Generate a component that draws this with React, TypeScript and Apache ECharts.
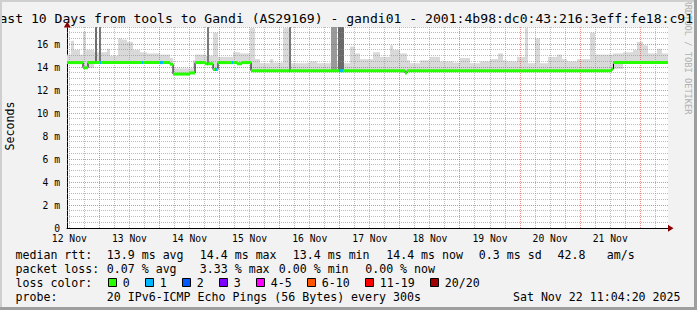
import React, { useEffect, useRef } from 'react';
import * as echarts from 'echarts';

const FONT = 'DejaVu Sans Mono';
// hours counted from 12 Nov 00:00
const START_H = 11.072;
const END_H = 251.072;
const Y_MAX = 17.5;

const titleText = 'Last 10 Days from tools to Gandi (AS29169) - gandi01 - 2001:4b98:dc0:43:216:3eff:fe18:c91';
const creditText = 'RRDTOOL / TOBI OETIKER';
const yAxisName = 'Seconds';

const dayLabels = ['12 Nov', '13 Nov', '14 Nov', '15 Nov', '16 Nov', '17 Nov', '18 Nov', '19 Nov', '20 Nov', '21 Nov'];
const dayLabelHours = [12, 36, 60, 84, 108, 132, 156, 180, 204, 228];
const yTickValues = [0, 2, 4, 6, 8, 10, 12, 14, 16];
const yTickLabels = ['0', '2 m', '4 m', '6 m', '8 m', '10 m', '12 m', '14 m', '16 m'];

// median rtt (ms), step starts in hours
const medianStart = [11.07, 17.46, 19.46, 52.21, 53.41, 60.2, 62.2, 66.19, 69.38, 71.38, 78.97, 80.97, 84.56, 146.07, 146.87, 228.6, 229.3];
const medianMs = [14.4, 13.95, 14.4, 14.25, 13.4, 13.5, 14.4, 14.3, 13.8, 14.4, 14.3, 14.4, 13.7, 13.5, 13.7, 13.85, 14.4];

// packet loss periods (lost pings of 20)
const lossStart = [24.2, 41.0, 48.2, 66.9, 70.2, 71.8, 77.0, 99.7, 119.5];
const lossEnd = [24.7, 41.4, 49.4, 67.4, 71.0, 72.2, 77.4, 100.1, 121.1];
const lossCount = [1, 1, 1, 1, 1, 1, 1, 1, 1];

// smoke: highest ping (ms), step starts in hours
const smokeStart = [11.07, 12.67, 13.87, 16.26, 17.46, 18.66, 21.85, 27.05, 28.24, 31.44, 33.04, 35.03, 37.43, 40.23, 43.02, 48.21, 52.21, 53.41, 61.4, 62.2, 66.59, 69.38, 71.38, 77.37, 80.17, 84.16, 86.16, 88.15, 92.15, 93.35, 97.34, 100.14, 106.93, 108.12, 110.92, 116.11, 121.71, 124.1, 126.1, 128.1, 133.29, 136.09, 140.08, 141.28, 144.08, 146.87, 148.07, 152.06, 156.05, 160.04, 165.24, 168.03, 172.03, 176.02, 180.02, 183.21, 185.21, 186.81, 190.8, 194.0, 195.2, 197.99, 199.99, 203.18, 206.78, 208.77, 210.77, 214.76, 219.96, 221.95, 229.14, 233.14, 237.13, 238.73, 241.13, 243.12, 246.72, 248.72];
const smokeMax = [15.1, 16.3, 15.5, 15.1, 17.1, 15.5, 15.3, 15.6, 15.0, 16.5, 16.4, 16.2, 15.5, 15.3, 15.2, 15.1, 14.8, 13.9, 14.6, 15.1, 15.0, 17.0, 14.9, 15.3, 15.2, 17.4, 14.7, 14.35, 14.7, 14.4, 17.4, 14.35, 14.4, 14.5, 14.35, 14.4, 14.35, 15.8, 15.2, 14.7, 15.3, 14.9, 15.9, 15.5, 15.2, 14.6, 14.35, 14.6, 14.9, 14.5, 14.4, 14.8, 14.35, 14.5, 14.7, 15.2, 14.6, 14.5, 14.9, 17.4, 14.35, 16.5, 14.35, 14.9, 15.1, 14.7, 14.5, 14.7, 17.0, 15.1, 15.2, 15.3, 15.5, 16.2, 15.9, 15.2, 15.6, 15.2];

// dense smoke spikes
const spikeStart = [22.25, 23.85, 66.99, 99.74, 116.51, 119.31];
const spikeEnd = [23.05, 24.65, 67.79, 100.54, 118.91, 121.71];
const spikeTop = [17.5, 17.5, 17.5, 17.5, 17.5, 17.5];
const spikeShade = ['#6e6e6e', '#7a7a7a', '#7a7a7a', '#777777', '#9a9a9a', '#6a6a6a'];

const lossColorLabels = ['0', '1', '2', '3', '4-5', '6-10', '11-19', '20/20'];
const lossColors = ['#26ff00', '#00b8ff', '#0059ff', '#7e00ff', '#ff00ff', '#ff5500', '#ff0000', '#a10000'];

const rttLabel = 'median rtt:';
const rttStats = ['13.9 ms avg', '14.4 ms max', '13.4 ms min', '14.4 ms now', '0.3 ms sd', '42.8', 'am/s'];
const lossLabel = 'packet loss:';
const lossStats = ['0.07 % avg', '3.33 % max', '0.00 % min', '0.00 % now'];
const lossColorLabel = 'loss color:';
const probeLabel = 'probe:';
const probeText = '20 IPv6-ICMP Echo Pings (56 Bytes) every 300s';
const stampText = 'Sat Nov 22 11:04:20 2025';

function lossColorIndex(n: number) {
  if (n <= 3) return n;
  if (n <= 5) return 4;
  if (n <= 10) return 5;
  if (n <= 19) return 6;
  return 7;
}

function medianMinBetween(h0: number, h1: number) {
  let m = Infinity;
  for (let i = 0; i < medianStart.length; i++) {
    const s = medianStart[i];
    const e = i + 1 < medianStart.length ? medianStart[i + 1] : END_H;
    if (s < h1 && e > h0) m = Math.min(m, medianMs[i]);
  }
  return m === Infinity ? medianMs[0] : m;
}

export default function App() {
  const ref = useRef<HTMLDivElement>(null);

  useEffect(() => {
    document.body.style.margin = '0';
    if (!ref.current) return;
    const chart = echarts.init(ref.current, undefined, { renderer: 'svg' });

    const medianSegs = medianStart.map((s, i) => [s, i + 1 < medianStart.length ? medianStart[i + 1] : END_H, medianMs[i]]);
    const medianLine: number[][] = medianStart.map((s, i) => [s, medianMs[i]]);
    medianLine.push([END_H, medianMs[medianMs.length - 1]]);

    const smokeData = smokeStart.map((s, i) => {
      const e = i + 1 < smokeStart.length ? smokeStart[i + 1] : END_H;
      return [s, e, smokeMax[i], medianMinBetween(s, e)];
    });
    const spikeData = spikeStart.map((s, i) => [s, spikeEnd[i], spikeTop[i], medianMinBetween(s, spikeEnd[i]), i]);

    const lossData = lossStart.map((s, i) => {
      const e = lossEnd[i];
      let v = medianMs[0];
      for (let k = 0; k < medianStart.length; k++) if (medianStart[k] <= s) v = medianMs[k];
      return [s, e, v, lossColorIndex(lossCount[i])];
    });

    // grid lines: [x, y, kind] kind 0 vminor 1 vmajor 2 hminor 3 hmajor
    const gridData: number[][] = [];
    for (let h = 12; h < END_H; h += 6) gridData.push([h, 0, h % 24 === 0 ? 1 : 0]);
    for (let v = 0.5; v <= Y_MAX + 0.001; v += 0.5) gridData.push([START_H, v, v % 2 === 0 ? 3 : 2]);

    const minorColor = 'rgba(143,143,143,0.6)';
    const majorColor = 'rgba(222,48,33,0.55)';

    const textEl = (text: string, x: number, y: number, extra: any = {}) => ({
      type: 'text',
      x,
      y,
      silent: true,
      style: {
        text,
        fill: '#000',
        font: `11.6px "${FONT}"`,
        textAlign: 'left',
        textVerticalAlign: 'middle',
        verticalAlign: 'middle',
        ...extra,
      },
    });

    const graphic: any[] = [];
    graphic.push({
      type: 'text', x: 687.5, y: 57, rotation: -Math.PI / 2, silent: true, z: 1,
      style: { text: creditText, fill: '#b0b0b0', font: `8.7px "${FONT}"`, textAlign: 'center', textVerticalAlign: 'middle', verticalAlign: 'middle' },
    });
    graphic.push({
      type: 'text', x: -8.5, y: 18.7, silent: true, z: 2,
      style: { text: titleText, fill: '#000', font: `13.1px "${FONT}"`, textAlign: 'left', textVerticalAlign: 'middle', verticalAlign: 'middle' },
    });
    graphic.push({
      type: 'text', x: 10, y: 126, rotation: Math.PI / 2, silent: true,
      style: { text: yAxisName, fill: '#000', font: `11.6px "${FONT}"`, textAlign: 'center', textVerticalAlign: 'middle', verticalAlign: 'middle' },
    });
    graphic.push({ type: 'polygon', silent: true, z: 10, shape: { points: [[668, 224.8], [673.5, 228.3], [668, 231.8]] }, style: { fill: '#8b0000' } });
    graphic.push({ type: 'polygon', silent: true, z: 10, shape: { points: [[63.8, 27.5], [67.3, 21.5], [70.8, 27.5]] }, style: { fill: '#8b0000' } });

    const rowY = [255.2, 268.8, 282.7, 296.5];
    const rttX = [106.8, 199.8, 292.8, 386.2, 478.8, 557.5, 606.8];
    const lossX = [106.8, 199.8, 278.8, 365.2];
    graphic.push(textEl(rttLabel, 15.5, rowY[0]));
    rttStats.forEach((t, i) => graphic.push(textEl(t, rttX[i], rowY[0])));
    graphic.push(textEl(lossLabel, 15.5, rowY[1]));
    lossStats.forEach((t, i) => graphic.push(textEl(t, lossX[i], rowY[1])));
    graphic.push(textEl(lossColorLabel, 15.5, rowY[2]));
    const swX = [108.5, 145.5, 182.5, 219.5, 256.5, 307.5, 365.5, 430.5];
    lossColorLabels.forEach((t, i) => {
      graphic.push({
        type: 'rect', silent: true,
        shape: { x: swX[i], y: 278.5, width: 8, height: 8 },
        style: { fill: lossColors[i], stroke: '#000', lineWidth: 1 },
      });
      graphic.push(textEl(t, swX[i] + 14.3, rowY[2]));
    });
    graphic.push(textEl(probeLabel, 15.5, rowY[3]));
    graphic.push(textEl(probeText, 106.8, rowY[3]));
    graphic.push(textEl(stampText, 680.5, rowY[3], { textAlign: 'right' }));

    graphic.push({ type: 'rect', silent: true, z: 20, shape: { x: 0, y: 0, width: 697, height: 2 }, style: { fill: '#cfcfcf' } });
    graphic.push({ type: 'rect', silent: true, z: 20, shape: { x: 0, y: 0, width: 2, height: 310 }, style: { fill: '#cfcfcf' } });
    graphic.push({ type: 'rect', silent: true, z: 21, shape: { x: 0, y: 307, width: 697, height: 3 }, style: { fill: '#9e9e9e' } });
    graphic.push({ type: 'rect', silent: true, z: 21, shape: { x: 694, y: 0, width: 3, height: 310 }, style: { fill: '#9e9e9e' } });

    const rectFromCoords = (api: any, x0: number, x1: number, yTop: number, yBot: number, fill: string) => {
      const p0 = api.coord([x0, yTop]);
      const p1 = api.coord([x1, yBot]);
      const xa = Math.round(p0[0]);
      const xb = Math.round(p1[0]);
      return {
        type: 'rect',
        shape: { x: xa, y: p0[1], width: Math.max(1, xb - xa), height: p1[1] - p0[1] },
        style: { fill },
      };
    };

    const option: any = {
      animation: false,
      backgroundColor: '#f2f2f2',
      textStyle: { fontFamily: FONT },
      grid: { left: 67, right: 29, top: 27, bottom: 82, show: true, backgroundColor: '#ffffff', borderWidth: 0 },
      xAxis: {
        type: 'value',
        min: START_H,
        max: END_H,
        splitLine: { show: false },
        axisTick: { show: false },
        axisLine: { show: true, lineStyle: { color: '#000', width: 1 } },
        axisLabel: {
          customValues: dayLabelHours,
          formatter: (v: number) => {
            const i = dayLabelHours.indexOf(Math.round(v));
            return i >= 0 ? dayLabels[i] : '';
          },
          fontFamily: FONT,
          fontSize: 9.7,
          color: '#000',
          margin: 5,
          showMinLabel: true,
          showMaxLabel: true,
        },
      },
      yAxis: {
        type: 'value',
        min: 0,
        max: Y_MAX,
        interval: 2,
        splitLine: { show: false },
        axisTick: { show: false },
        axisLine: { show: true, lineStyle: { color: '#000', width: 1 } },
        axisLabel: {
          formatter: (v: number) => {
            const i = yTickValues.indexOf(v);
            return i >= 0 ? yTickLabels[i] : '';
          },
          fontFamily: FONT,
          fontSize: 9.7,
          color: '#000',
          margin: 7,
        },
      },
      series: [
        {
          type: 'custom',
          name: 'smoke',
          z: 2,
          clip: true,
          silent: true,
          encode: { x: [0, 1], y: [2, 3] },
          data: smokeData,
          renderItem: (params: any, api: any) =>
            rectFromCoords(api, api.value(0), api.value(1), api.value(2), api.value(3), '#d9d9d9'),
        },
        {
          type: 'custom',
          name: 'spikes',
          z: 3,
          clip: true,
          silent: true,
          encode: { x: [0, 1], y: [2, 3] },
          data: spikeData,
          renderItem: (params: any, api: any) =>
            rectFromCoords(api, api.value(0), api.value(1), api.value(2), api.value(3), spikeShade[api.value(4)]),
        },
        {
          type: 'custom',
          name: 'grid',
          z: 4,
          clip: true,
          silent: true,
          encode: { x: 0, y: 1 },
          data: gridData,
          renderItem: (params: any, api: any) => {
            const kind = api.value(2);
            if (kind <= 1) {
              const p0 = api.coord([api.value(0), 0]);
              const p1 = api.coord([api.value(0), Y_MAX]);
              const x = Math.floor(p0[0]) + 0.5;
              return {
                type: 'line',
                shape: { x1: x, y1: p0[1], x2: x, y2: p1[1] },
                style: { stroke: kind === 1 ? majorColor : minorColor, lineWidth: 1, lineDash: [1, 1] },
              };
            }
            const p0 = api.coord([START_H, api.value(1)]);
            const p1 = api.coord([END_H, api.value(1)]);
            const y = Math.floor(p0[1]) + 0.5;
            return {
              type: 'line',
              shape: { x1: p0[0], y1: y, x2: p1[0], y2: y },
              style: { stroke: kind === 3 ? majorColor : minorColor, lineWidth: 1, lineDash: [1, 1] },
            };
          },
        },
        {
          type: 'line',
          name: 'median edge',
          z: 5,
          step: 'end',
          symbol: 'none',
          silent: true,
          lineStyle: { color: '#000', width: 1 },
          data: medianLine,
        },
        {
          type: 'custom',
          name: 'median',
          z: 6,
          clip: true,
          silent: true,
          encode: { x: [0, 1], y: 2 },
          data: medianSegs,
          renderItem: (params: any, api: any) => {
            const p0 = api.coord([api.value(0), api.value(2)]);
            const p1 = api.coord([api.value(1), api.value(2)]);
            const xa = Math.round(p0[0]);
            const xb = Math.round(p1[0]);
            return { type: 'rect', shape: { x: xa, y: p0[1] - 1.5, width: Math.max(1, xb - xa), height: 3 }, style: { fill: lossColors[0] } };
          },
        },
        {
          type: 'custom',
          name: 'loss',
          z: 7,
          clip: true,
          silent: true,
          encode: { x: [0, 1], y: 2 },
          data: lossData,
          renderItem: (params: any, api: any) => {
            const p0 = api.coord([api.value(0), api.value(2)]);
            const p1 = api.coord([api.value(1), api.value(2)]);
            const xa = Math.round(p0[0]);
            const xb = Math.round(p1[0]);
            return { type: 'rect', shape: { x: xa, y: p0[1] - 1.5, width: Math.max(1, xb - xa), height: 3 }, style: { fill: lossColors[api.value(3)] } };
          },
        },
      ],
      graphic,
    };

    chart.setOption(option);
    return () => chart.dispose();
  }, []);

  return <div ref={ref} style={{ width: 697, height: 310, overflow: 'hidden' }} />;
}
